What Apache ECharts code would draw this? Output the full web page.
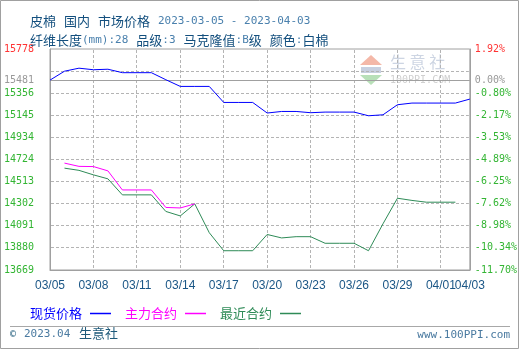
<!DOCTYPE html>
<html><head><meta charset="utf-8">
<script src="https://cdn.jsdelivr.net/npm/echarts@6/dist/echarts.min.js"></script>
<style>html,body{margin:0;padding:0;background:#fff}#c{width:520px;height:350px}</style>
</head><body><div id="c"></div>
<script>
const dates = ['03/05','03/06','03/07','03/08','03/09','03/10','03/11','03/12','03/13','03/14','03/15','03/16','03/17','03/18','03/19','03/20','03/21','03/22','03/23','03/24','03/25','03/26','03/27','03/28','03/29','03/30','03/31','04/01','04/02','04/03'];
const spotPrice = [15481,15566,15595,15580,15585,15552,15552,15552,15485,15421,15421,15421,15268,15268,15268,15167,15182,15182,15170,15176,15176,15176,15141,15150,15246,15262,15262,15262,15262,15300];
const mainContract = [null,14689,14658,14656,14615,14433,14433,14433,14266,14261,14300,null,null,null,null,null,null,null,null,null,null,null,null,null,null,null,null,null,null,null];
const nearContract = [null,14641,14620,14577,14539,14386,14386,14386,14228,14185,14300,14025,13853,13853,13853,14008,13975,13987,13987,13924,13924,13924,13853,14110,14354,14333,14316,14316,14316,null];
const seriesNames = ['现货价格','主力合约','最近合约'];
const yMin = 13669, yMax = 15778, baseValue = 15481;
const yTickValues = [13669,13880,14091,14302,14513,14724,14934,15145,15356,15481,15778];
const yTickLabels = ['13669','13880','14091','14302','14513','14724','14934','15145','15356','15481','15778'];
const pctTickLabels = ['-11.70%','-10.34%','-8.98%','-7.62%','-6.25%','-4.89%','-3.53%','-2.17%','-0.80%','0.00%','1.92%'];
const yGridValues = [13880,14091,14302,14513,14724,14934,15145,15356,15567];
const xGridIndices = [3,6,9,12,15,18,21,24,27];
const titleMain = ['皮棉','国内','市场价格'];
const dateRange = '2023-03-05 - 2023-04-03';
const footerLeft = '2023.04';
const footerBrand = '生意社';
const footerSite = 'www.100PPI.com';

const colors = ['#0000ff','#ff00ff','#2e8b57'];
const green = '#33b533', red = '#ff3333', gray = '#999999';
const frame = '#a0a0a0', gridCol = '#b4b4b4';
function labelColor(v){ v = Number(v); if (Math.abs(v-yMax)<1) return red; if (Math.abs(v-baseValue)<1) return gray; return green; }
function idxOf(v){ v = Number(v); let b=0,d=1e9; yTickValues.forEach((t,i)=>{const dd=Math.abs(t-v); if(dd<d){d=dd;b=i;}}); return b; }

const chart = echarts.init(document.getElementById('c'), null, {renderer:'canvas'});
const mono = 'DejaVu Sans Mono';
const cjk = 'Noto Sans CJK SC';
const staticGraphic = [
    {type:'rect',shape:{x:0.5,y:0.5,width:518,height:348},style:{fill:null,stroke:frame,lineWidth:1},silent:true},
    {type:'line',shape:{x1:10,y1:326.5,x2:510,y2:326.5},style:{stroke:'#a8a8a8',lineWidth:1}},
    {type:'text',left:10,top:329,style:{text:'©',fontSize:10,fill:'#1e5a7a',fontFamily:mono}},
    {type:'text',left:24,top:329,style:{text:footerLeft,fontSize:11,fill:'#4a7aa0',fontFamily:mono}},
    {type:'text',left:79,top:327,style:{text:footerBrand,fontSize:13,fill:'#1e5a7a',fontFamily:cjk}},
    {type:'text',right:10,top:330,style:{text:footerSite,fontSize:11,fill:'#4a7aa0',fontFamily:mono}},
    {type:'polygon',shape:{points:[[360,65],[371,55],[382,65]]},style:{fill:'#f4b8a8'},silent:true},
    {type:'rect',shape:{x:361,y:67,width:20,height:6},style:{fill:'#c8d0e0'},silent:true},
    {type:'polygon',shape:{points:[[360,75],[382,75],[371,85]]},style:{fill:'#b8e0b8'},silent:true},
    {type:'text',left:390,top:54,style:{text:'生 意 社',fontSize:16,fill:'#cdd5e3',fontFamily:cjk},silent:true},
    {type:'text',left:390,top:75,style:{text:'100PPI.COM',fontSize:10,fill:'#d0d0d0',fontFamily:mono},silent:true}
];
chart.setOption({
  animation:false,
  backgroundColor:'#fff',
  grid:{left:50,right:50,top:49,bottom:80,show:true,borderColor:frame,borderWidth:1,backgroundColor:'transparent'},
  title:[
    {left:25,top:7,text:'{a|'+titleMain[0]+'}{s| }{a|'+titleMain[1]+'}{s| }{a|'+titleMain[2]+'}{s| }{d|'+dateRange+'}',
     textStyle:{fontWeight:'normal',rich:{a:{fontFamily:cjk,fontSize:13,fontWeight:'normal',color:'#134f7e'},s:{width:8},d:{fontFamily:mono,fontSize:11,fontWeight:'normal',color:'#4a80ad'}}}},
    {left:25,top:26,text:'{a|纤维长度}{n|(mm):28}{s| }{a|品级}{n|:3}{s| }{a|马克隆值}{n|:B}{a|级}{s| }{a|颜色}{n|:}{a|白棉}',
     textStyle:{fontWeight:'normal',rich:{a:{fontFamily:cjk,fontSize:13,fontWeight:'normal',color:'#134f7e'},n:{fontFamily:mono,fontSize:11,fontWeight:'normal',color:'#4a80ad'},s:{width:8}}}}
  ],
  legend:{left:25,top:302,align:'right',itemGap:14,itemWidth:21,itemHeight:1.5,icon:'rect',
    textStyle:{fontFamily:cjk,fontSize:13,padding:[0,3,0,0]},
    data:seriesNames.map((n,i)=>({name:n,textStyle:{color:colors[i]},itemStyle:{color:colors[i]}}))},
  xAxis:{type:'category',data:dates,boundaryGap:false,position:'bottom',
      axisLine:{show:true,lineStyle:{color:frame}},axisTick:{show:false},
      axisLabel:{interval:0,hideOverlap:false,showMaxLabel:true,
        formatter:(v,i)=>(i%3===0||i===dates.length-1)?v:'',
        color:'#1a5686',fontFamily:'Liberation Sans',fontSize:12,margin:10},
      splitLine:{show:false}},
  yAxis:[
    {type:'value',min:yMin,max:yMax,position:'left',
      axisLine:{show:true,lineStyle:{color:frame}},axisTick:{show:false},
      splitLine:{show:false},
      axisLabel:{customValues:yTickValues,margin:16,fontFamily:mono,fontSize:10,color:labelColor,formatter:(v)=>yTickLabels[idxOf(v)]}},
    {type:'value',min:yMin,max:yMax,position:'right',
      axisLine:{show:true,lineStyle:{color:frame}},axisTick:{show:false},splitLine:{show:false},
      axisLabel:{customValues:yTickValues,margin:5,fontFamily:mono,fontSize:10,color:labelColor,formatter:(v)=>pctTickLabels[idxOf(v)]}}
  ],
  series:[
    {name:seriesNames[0],type:'line',data:spotPrice,showSymbol:false,symbol:'none',lineStyle:{width:1,color:colors[0]},itemStyle:{color:colors[0]},z:5},
    {name:seriesNames[1],type:'line',data:mainContract,showSymbol:false,symbol:'none',lineStyle:{width:1,color:colors[1]},itemStyle:{color:colors[1]},z:5},
    {name:seriesNames[2],type:'line',data:nearContract,showSymbol:false,symbol:'none',lineStyle:{width:1,color:colors[2]},itemStyle:{color:colors[2]},z:4}
  ],
  graphic:staticGraphic
});
try {
  const px = (i,v)=>chart.convertToPixel({xAxisIndex:0,yAxisIndex:0},[i,v]);
  const snap = (p)=>Math.round(p-0.5)+0.5;
  const x0 = px(0,yMin)[0], x1 = px(dates.length-1,yMin)[0];
  const yb = px(0,yMin)[1], yt = px(0,yMax)[1];
  const dashOn = 3, dashOff = 2;
  const gl = [];
  const seg = (a,b,c,d)=>gl.push({type:'line',silent:true,shape:{x1:a,y1:b,x2:c,y2:d},style:{stroke:gridCol,lineWidth:1}});
  yGridValues.forEach(v=>{const y=snap(px(0,v)[1]); for(let x=Math.round(x0)+1;x<x1-1;x+=dashOn+dashOff){seg(x,y,Math.min(x+dashOn,x1-1),y);}});
  xGridIndices.forEach(i=>{const x=snap(px(i,yMin)[0]); for(let y=Math.round(yt)+1;y<yb-1;y+=dashOn+dashOff){seg(x,y,x,Math.min(y+dashOn,yb-1));}});
  const by = snap(px(0,baseValue)[1]);
  gl.push({type:'line',silent:true,shape:{x1:x0,y1:by,x2:x1,y2:by},style:{stroke:frame,lineWidth:1}});
  chart.setOption({graphic:staticGraphic.concat(gl)}, {replaceMerge:['graphic']});
} catch(e) {}
</script></body></html>
